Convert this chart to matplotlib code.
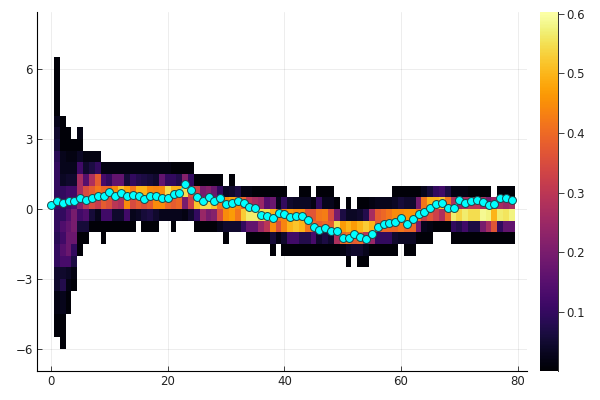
import numpy as np
import matplotlib
matplotlib.use("Agg")
import matplotlib.pyplot as plt

n = np.nan

# density per row, rows listed by lower bin edge, each row starts at column 1
r_6p0 = [.01]
r_5p5 = [.01]
r_5p0 = [.01]
r_4p5 = [.01]
r_4p0 = [.01]
r_3p5 = [.03, .01]
r_3p0 = [.05, .01, .01, n, .02]
r_2p5 = [.06, .01, .01, .01, .01]
r_2p0 = [.09, .03, .02, .02, .04, .02, .02, .02]
r_1p5 = [.1, .03, .03, .03, .12, .05, .07, .1, .02, .02,
         .02, .02, .02, .02, .02, .02, .02, .02, .02, .02,
         .01, .01, .01, .01]
r_1p0 = [.1, .04, .05, .05, .27, .15, .28, .38, .13, .1,
         .17, .17, .06, .1, .08, .07, .06, .05, .17, .1,
         .1, .08, .22, .1, .01, .01, .01, .01, .01, n,
         .01]
r_0p5 = [.1, .1, .12, .12, .27, .35, .38, .42, .4, .4,
         .45, .52, .48, .42, .5, .5, .45, .44, .45, .55,
         .5, .5, .55, .36, .33, .2, .22, .18, .1, .04,
         .05, .07, .02, .02, .01, .01, .01, .01, .01, .01,
         n, n, .01, .01, n, .01, .01, .01, n, n,
         n, n, n, n, n, n, n, n, .01, .01,
         .01, .01, .01, .03, .06, .1, .12, .07, .02, .02,
         .02, .01, .01, .01, .01, n, .01, .01, .01]
r_0p0 = [.12, .1, .12, .14, .22, .3, .35, .32, .38, .36,
         .3, .28, .45, .35, .38, .36, .38, .45, .45, .4,
         .38, .4, .2, .33, .52, .55, .55, .52, .42, .45,
         .48, .45, .4, .3, .27, .25, .15, .18, .03, .1,
         .05, .04, .04, .04, .02, .1, .03, .03, .01, n,
         .01, n, .01, .01, .02, .03, .03, .03, .04, .06,
         .05, .05, .2, .42, .5, .5, .52, .42, .28, .25,
         .27, .3, .3, .27, .2, .25, .27, .25, .27]
r_m0p5 = [.1, .1, .14, .2, .12, .14, .06, .03, .12, .12,
          .05, .05, .12, .03, .04, .06, .07, .05, .03, .03,
          .03, .03, .02, .05, .1, .25, .2, .22, .35, .45,
          .47, .42, .53, .57, .57, .55, .55, .5, .42, .44,
          .47, .45, .45, .37, .37, .42, .43, .35, .2, .07,
          .04, .04, .05, .08, .27, .38, .4, .42, .45, .45,
          .46, .46, .42, .33, .37, .33, .28, .4, .57, .54,
          .57, .55, .55, .59, .58, .5, .57, .56, .58]
r_m1p0 = [.1, .14, .17, .2, .06, .06, .01, .01, .01, .01,
          .01, .01, .01, .01, n, .01, .01, .01, n, n,
          .01, n, n, n, .01, .01, .01, .01, .03, .05,
          .05, .05, .1, .17, .17, .25, .3, .45, .36, .44,
          .5, .52, .5, .42, .4, .38, .4, .38, .55, .47,
          .5, .47, .5, .53, .5, .38, .4, .4, .4, .42,
          .4, .4, .2, .03, .02, .01, .01, .01, .1, .08,
          .12, .07, .07, .2, .27, .37, .1, .17, .17]
r_m1p5 = [.09, .12, .18, .18, .01, .01, n, n, .01, n,
          n, n, n, n, n, n, n, n, n, n,
          n, n, n, n, n, n, n, n, n, .01,
          n, n, n, .01, .01, .01, .01, .06, .02, .05,
          .12, .12, .08, .08, .13, .05, .07, .05, .28, .4,
          .42, .38, .4, .3, .25, .1, .1, .1, .05, .04,
          .04, .04, .01, .01, .01, n, n, n, .01, .01,
          .01, .01, .01, .01, .01, .01, .01, .01, .01]
r_m2p0 = [.1, .15, .18, .1, .01, n, n, n, n, n,
          n, n, n, n, n, n, n, n, n, n,
          n, n, n, n, n, n, n, n, n, n,
          n, n, n, n, n, n, n, .01, n, .01,
          .01, .01, .01, .01, .01, .01, .01, .01, .01, .02,
          .04, .05, .05, .03, .01, .01, .01, .01, .01, n,
          .01, .01]
r_m2p5 = [.1, .13, .13, .07, n, n, n, n, n, n,
          n, n, n, n, n, n, n, n, n, n,
          n, n, n, n, n, n, n, n, n, n,
          n, n, n, n, n, n, n, n, n, n,
          n, n, n, n, n, n, n, n, n, n,
          .01, n, .01, .01]
r_m3p0 = [.05, .05, .04, .02]
r_m3p5 = [.05, .08, .02, .01]
r_m4p0 = [.02, .03, .01]
r_m4p5 = [.02, .03, .01]
r_m5p0 = [.01, .01]
r_m5p5 = [.01, .01]
r_m6p0 = [n, .01]

rows = [r_m6p0, r_m5p5, r_m5p0, r_m4p5, r_m4p0, r_m3p5, r_m3p0, r_m2p5, r_m2p0,
        r_m1p5, r_m1p0, r_m0p5, r_0p0, r_0p5, r_1p0, r_1p5, r_2p0, r_2p5, r_3p0,
        r_3p5, r_4p0, r_4p5, r_5p0, r_5p5, r_6p0]

# cyan line, one point per column starting at 0
line_y = [.19, .36, .26, .33, .34, .47, .37, .46, .56, .56,
          .71, .54, .7, .57, .61, .57, .43, .56, .57, .49,
          .47, .64, .7, 1.07, .81, .53, .34, .5, .34, .47,
          .21, .26, .36, .26, .1, .03, -.24, -.3, -.39, -.17,
          -.2, -.33, -.31, -.3, -.46, -.76, -.89, -.8, -.93, -.93,
          -1.26, -1.26, -1.09, -1.2, -1.3, -1.07, -.76, -.64, -.59, -.54,
          -.4, -.64, -.41, -.21, -.11, .03, .23, .27, .04, .06,
          .37, .24, .34, .37, .3, .16, .23, .46, .49, .4]

xticks = [0, 20, 40, 60, 80]
yticks = [-6, -3, 0, 3, 6]
cticks = [.1, .2, .3, .4, .5, .6]

n_cols = 79
grid = np.full((len(rows), n_cols), np.nan)
for i, row in enumerate(rows):
    grid[i, :len(row)] = row

x_edges = np.arange(n_cols + 1) + 0.5
y_edges = -6 + 0.5 * np.arange(len(rows) + 1)

W, H = 600, 400
fig = plt.figure(figsize=(6, 4), dpi=100)
plt.rcParams['font.family'] = 'DejaVu Sans'

ax = fig.add_axes([37 / W, 1 - 371 / H, (527 - 37) / W, (371 - 12) / H])
mesh = ax.pcolormesh(x_edges, y_edges, np.ma.masked_invalid(grid), cmap='inferno',
                     vmin=0.0007, vmax=0.603, zorder=2, linewidth=0, rasterized=True)
ax.plot(np.arange(len(line_y)), line_y, color='#00ffff', lw=1, marker='o', ms=5.7,
        mfc='#00ffff', mec='#1f4448', mew=0.7, zorder=3)

ax.set_xlim(-2.4, 81.6)
ax.set_ylim(-6.94, 8.44)
ax.set_xticks(xticks)
ax.set_yticks(yticks)
ax.grid(True, color='black', alpha=0.1, lw=0.5, zorder=1)
ax.set_axisbelow(True)
ax.spines['top'].set_visible(False)
ax.spines['right'].set_visible(False)
for s in ['left', 'bottom']:
    ax.spines[s].set_linewidth(0.8)
ax.tick_params(direction='in', length=3.5, width=0.6, labelsize=8.5, pad=3, colors='#222222')

cax = fig.add_axes([540 / W, 1 - 371 / H, 18 / W, (371 - 12) / H])
cb = fig.colorbar(mesh, cax=cax, ticks=cticks)
cb.solids.set_edgecolor('face')
cb.outline.set_visible(False)
cax.plot([1, 1], [0, 1], color='#333333', lw=0.7, transform=cax.transAxes, clip_on=False)
cb.ax.set_yticklabels(['0.1', '0.2', '0.3', '0.4', '0.5', '0.6'])
cax.tick_params(direction='out', length=4, width=0.6, labelsize=8.5, pad=2, colors='#222222')

fig.savefig('out.png', dpi=100)
